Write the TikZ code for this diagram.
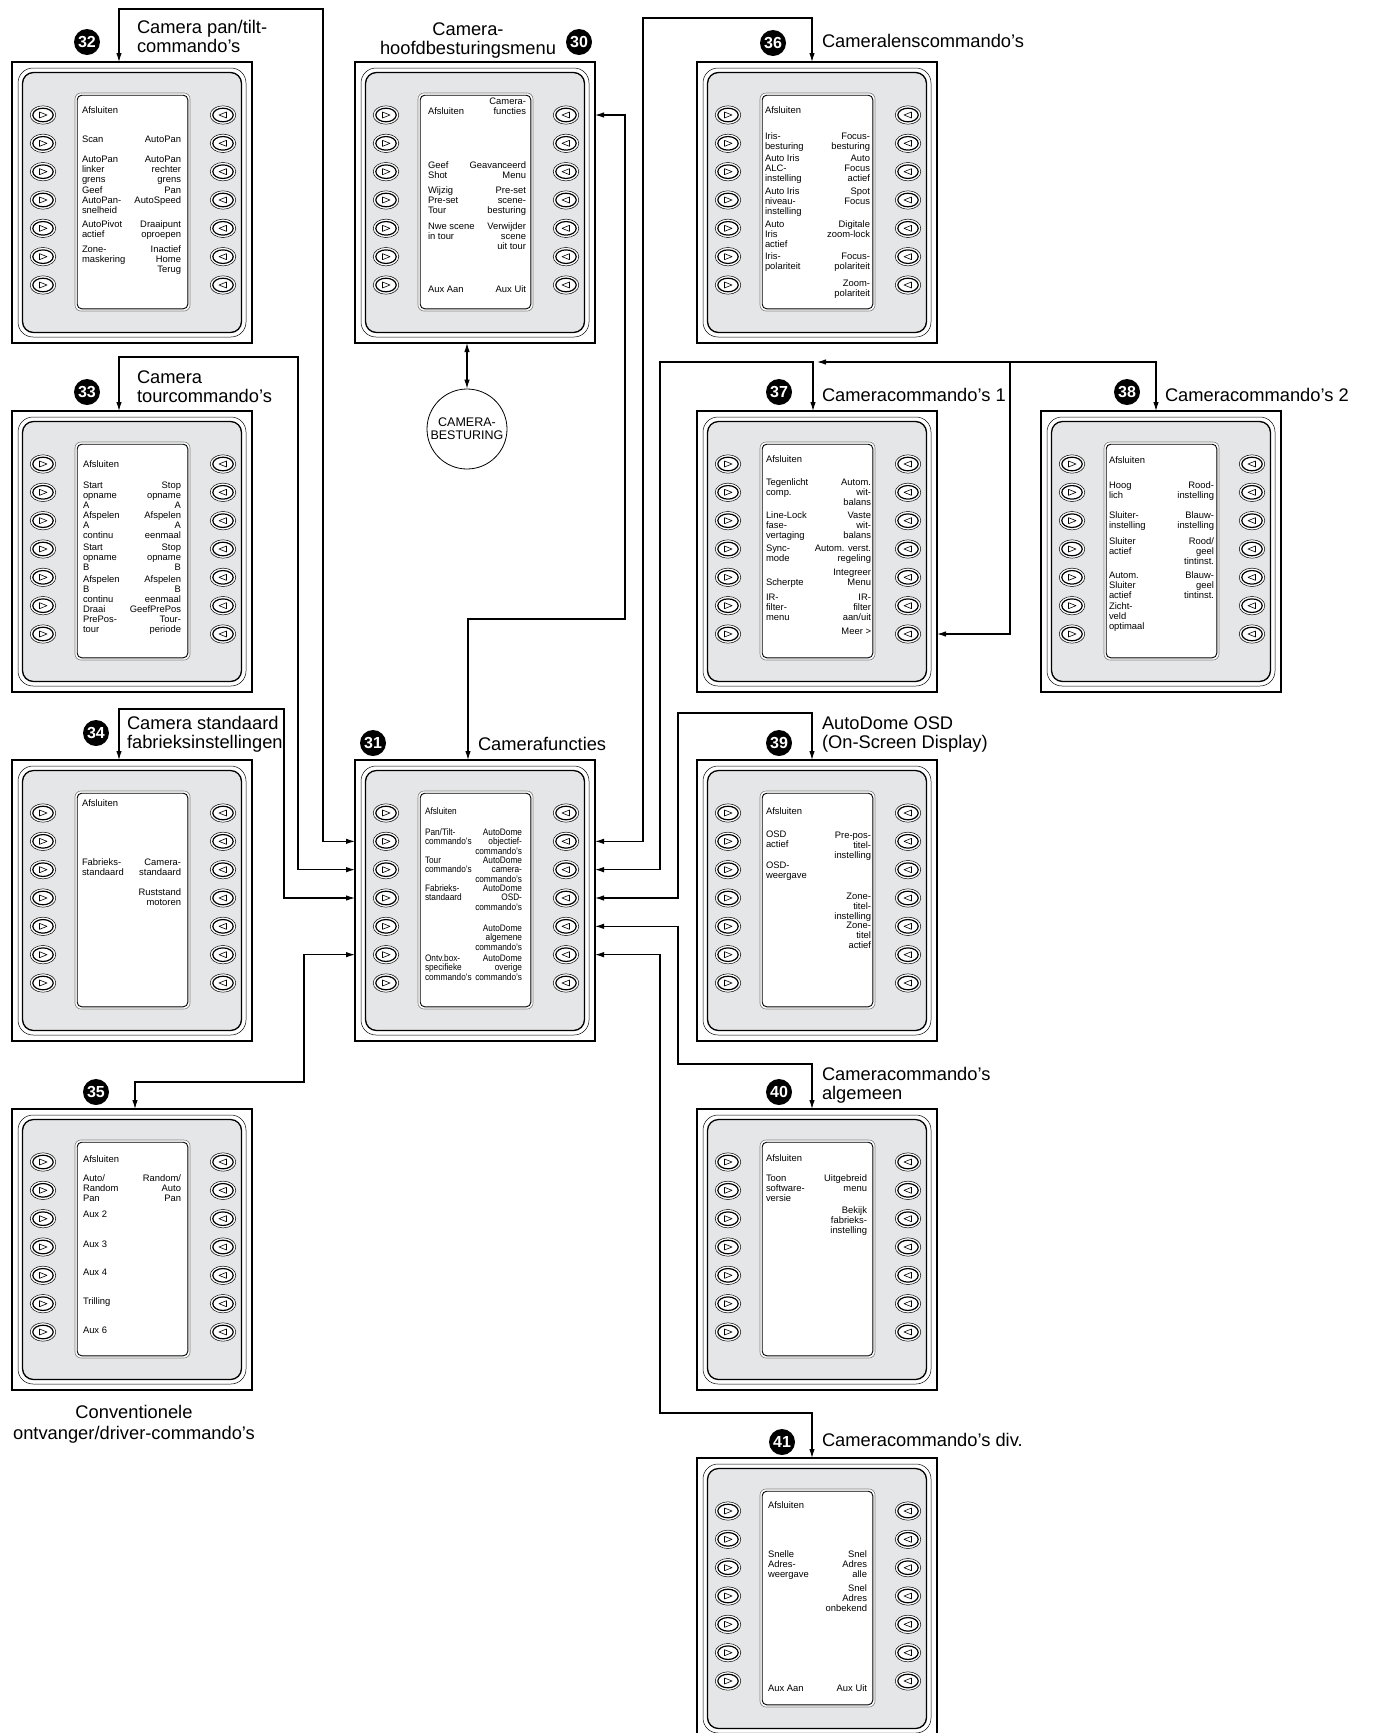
\documentclass[tikz,border=0pt]{standalone}
\usepackage{fontspec}
\setmainfont{Liberation Sans}
\newfontfamily\condfont[FakeStretch=0.88]{Liberation Sans}
\usetikzlibrary{arrows.meta}
\definecolor{panelgray}{RGB}{229,230,231}
\newcommand\smallf{\fontsize{9.4}{10}\selectfont}
\newcommand\smallc{\condfont\fontsize{9.4}{9.6}\selectfont}
\newcommand\titlef{\fontsize{18.3}{19}\selectfont}
\newcommand\lstrut{\rule{0pt}{8pt}}
\newcommand\tstrut{\rule{0pt}{14pt}}
\def\plx{70}
\def\prx{169}
\newcommand\labl[3]{\node[lt] (#1) at (\plx,{#2-8}) {\lstrut #3};}
\newcommand\labr[3]{\node[rt] (#1) at (\prx,{#2-8}) {\lstrut #3};}
\newcommand\btn[3]{%
  \draw[line width=0.5, fill=white] (#1,#2) ellipse [x radius=12.8, y radius=9.2];
  \draw[line width=1.2] (#1,#2) ellipse [x radius=10.2, y radius=6.8];
  \draw[line width=0.6, line join=round] ({#1-3.5*#3},{#2-3}) -- ({#1+4*#3},#2) -- ({#1-3.5*#3},{#2+3}) -- cycle;}
\newcommand\panel[3]{%
\begin{scope}[shift={(#2,#3)}]
\node[panelbox] (#1) at (0,0) {};
\draw[line width=0.5, fill=white, rounded corners=15] (6,6) rectangle (234,275);
\draw[line width=1.3, fill=panelgray, rounded corners=11] (10.5,10.5) rectangle (229.5,270.5);
\draw[line width=0.6, draw=black!50, fill=white, rounded corners=6] (63,31) rectangle (178,249);
\draw[line width=0.9, rounded corners=4.5] (65.2,33.2) rectangle (175.8,246.8);
\foreach \k in {1,...,7}{%
  \pgfmathsetmacro\yy{53+28.333*(\k-1)}%
  \coordinate (#1-L\k) at (0,\yy);
  \coordinate (#1-R\k) at (240,\yy);
  \btn{31}{\yy}{1}
  \btn{211}{\yy}{-1}
}
\end{scope}}
\tikzset{
 panelbox/.style={draw, line width=1.3, minimum width=240, minimum height=281, anchor=north west, inner sep=0, outer sep=0},
 lt/.style={anchor=north west, align=left, inner sep=0, outer sep=0, font=\smallf},
 rt/.style={anchor=north east, align=right, inner sep=0, outer sep=0, font=\smallf},
 ttl/.style={anchor=north west, align=left, inner sep=0, outer sep=0, font=\titlef},
 badge/.style={circle, fill=black, text=white, inner sep=0, minimum size=26, font=\fontsize{16}{16}\selectfont\bfseries},
 con/.style={line width=1.1},
 arr/.style={con, -{Latex[length=9pt,width=5.5pt]}},
 biarr/.style={con, {Latex[length=9pt,width=5.5pt]}-{Latex[length=9pt,width=5.5pt]}}
}
\begin{document}
\begin{tikzpicture}[x=1pt,y=-1pt]
\useasboundingbox (0,0) rectangle (1376,1733);
\fill[white] (0,0) rectangle (1376,1733);

% ---------- panels ----------
\panel{p32}{12}{62}
\begin{scope}[shift={(12,62)}]\def\plx{70}\def\prx{169}
\labl{p32a}{51}{Afsluiten}
\labl{p32b}{80}{Scan}\labr{p32c}{80}{AutoPan}
\labl{p32d}{100}{AutoPan\\linker\\grens}\labr{p32e}{100}{AutoPan\\rechter\\grens}
\labl{p32f}{131}{Geef\\AutoPan-\\snelheid}\labr{p32g}{131}{Pan\\AutoSpeed}
\labl{p32h}{165}{AutoPivot\\actief}\labr{p32i}{165}{Draaipunt\\oproepen}
\labl{p32j}{190}{Zone-\\maskering}\labr{p32k}{190}{Inactief\\Home\\Terug}
\end{scope}

\panel{p30}{355}{62}
\begin{scope}[shift={(355,62)}]\def\plx{73}\def\prx{171}
\labl{p30a}{52}{Afsluiten}\labr{p30b}{42}{Camera-\\functies}
\labl{p30c}{106}{Geef\\Shot}\labr{p30d}{106}{Geavanceerd\\Menu}
\labl{p30e}{131}{Wijzig\\Pre-set\\Tour}\labr{p30f}{131}{Pre-set\\scene-\\besturing}
\labl{p30g}{167}{Nwe scene\\in tour}\labr{p30h}{167}{Verwijder\\scene\\uit tour}
\labl{p30i}{230}{Aux Aan}\labr{p30j}{230}{Aux Uit}
\end{scope}

\panel{p36}{697}{62}
\begin{scope}[shift={(697,62)}]\def\plx{68}\def\prx{173}
\labl{p36a}{51}{Afsluiten}
\labl{p36b}{77}{Iris-\\besturing}\labr{p36c}{77}{Focus-\\besturing}
\labl{p36d}{99}{Auto Iris\\ALC-\\instelling}\labr{p36e}{99}{Auto\\Focus\\actief}
\labl{p36f}{132}{Auto Iris\\niveau-\\instelling}\labr{p36g}{132}{Spot\\Focus}
\labl{p36h}{165}{Auto\\Iris\\actief}\labr{p36i}{165}{Digitale\\zoom-lock}
\labl{p36j}{197}{Iris-\\polariteit}\labr{p36k}{197}{Focus-\\polariteit}
\labr{p36l}{224}{Zoom-\\polariteit}
\end{scope}

\panel{p33}{12}{411}
\begin{scope}[shift={(12,411)}]\def\plx{71}\def\prx{169}
\labl{p33a}{56}{Afsluiten}
\labl{p33b}{77}{Start\\opname\\A}\labr{p33c}{77}{Stop\\opname\\A}
\labl{p33d}{107}{Afspelen\\A\\continu}\labr{p33e}{107}{Afspelen\\A\\eenmaal}
\labl{p33f}{139}{Start\\opname\\B}\labr{p33g}{139}{Stop\\opname\\B}
\labl{p33h}{171}{Afspelen\\B\\continu}\labr{p33i}{171}{Afspelen\\B\\eenmaal}
\labl{p33j}{201}{Draai\\PrePos-\\tour}\labr{p33k}{201}{GeefPrePos\\Tour-\\periode}
\end{scope}

\panel{p37}{697}{411}
\begin{scope}[shift={(697,411)}]\def\plx{69}\def\prx{174}
\labl{p37a}{51}{Afsluiten}
\labl{p37b}{74}{Tegenlicht\\comp.}\labr{p37c}{74}{Autom.\\wit-\\balans}
\labl{p37d}{107}{Line-Lock\\fase-\\vertaging}\labr{p37e}{107}{Vaste\\wit-\\balans}
\labl{p37f}{140}{Sync-\\mode}\labr{p37g}{140}{Autom. verst.\\regeling}
\labr{p37h}{164}{Integreer\\Menu}\labl{p37i}{174}{Scherpte}
\labl{p37j}{189}{IR-\\filter-\\menu}\labr{p37k}{189}{IR-\\filter\\aan/uit}
\labr{p37l}{223}{Meer >}
\end{scope}

\panel{p38}{1041}{411}
\begin{scope}[shift={(1041,411)}]\def\plx{68}\def\prx{173}
\labl{p38a}{52}{Afsluiten}
\labl{p38b}{77}{Hoog\\lich}\labr{p38c}{77}{Rood-\\instelling}
\labl{p38d}{107}{Sluiter-\\instelling}\labr{p38e}{107}{Blauw-\\instelling}
\labl{p38f}{133}{Sluiter\\actief}\labr{p38g}{133}{Rood/\\geel\\tintinst.}
\labl{p38h}{167}{Autom.\\Sluiter\\actief}\labr{p38i}{167}{Blauw-\\geel\\tintinst.}
\labl{p38j}{198}{Zicht-\\veld\\optimaal}
\end{scope}

\panel{p34}{12}{760}
\begin{scope}[shift={(12,760)}]\def\plx{70}\def\prx{169}
\labl{p34a}{46}{Afsluiten}
\labl{p34b}{105}{Fabrieks-\\standaard}\labr{p34c}{105}{Camera-\\standaard}
\labr{p34d}{135}{Ruststand\\motoren}
\end{scope}

\panel{p31}{355}{760}
\begin{scope}[shift={(355,760)}, lt/.append style={font=\smallc}, rt/.append style={font=\smallc}]\def\plx{70}\def\prx{167}
\labl{p31a}{54}{Afsluiten}
\labl{p31b}{75}{Pan/Tilt-\\commando’s}\labr{p31c}{75}{AutoDome\\objectief-\\commando’s}
\labl{p31d}{103}{Tour\\commando’s}\labr{p31e}{103}{AutoDome\\camera-\\commando’s}
\labl{p31f}{131}{Fabrieks-\\standaard}\labr{p31g}{131}{AutoDome\\OSD-\\commando’s}
\labr{p31h}{171}{AutoDome\\algemene\\commando’s}
\labl{p31i}{201}{Ontv.box-\\specifieke\\commando’s}\labr{p31j}{201}{AutoDome\\overige\\commando’s}
\end{scope}

\panel{p39}{697}{760}
\begin{scope}[shift={(697,760)}]\def\plx{69}\def\prx{174}
\labl{p39a}{54}{Afsluiten}
\labl{p39b}{77}{OSD\\actief}\labr{p39c}{78}{Pre-pos-\\titel-\\instelling}
\labl{p39d}{108}{OSD-\\weergave}
\labr{p39e}{139}{Zone-\\titel-\\instelling}
\labr{p39f}{168}{Zone-\\titel\\actief}
\end{scope}

\panel{p35}{12}{1109}
\begin{scope}[shift={(12,1109)}]\def\plx{71}\def\prx{169}
\labl{p35a}{53}{Afsluiten}
\labl{p35b}{72}{Auto/\\Random\\Pan}\labr{p35c}{72}{Random/\\Auto\\Pan}
\labl{p35d}{108}{Aux 2}
\labl{p35e}{138}{Aux 3}
\labl{p35f}{166}{Aux 4}
\labl{p35g}{195}{Trilling}
\labl{p35h}{224}{Aux 6}
\end{scope}

\panel{p40}{697}{1109}
\begin{scope}[shift={(697,1109)}]\def\plx{69}\def\prx{170}
\labl{p40a}{52}{Afsluiten}
\labl{p40b}{72}{Toon\\software-\\versie}\labr{p40c}{72}{Uitgebreid\\menu}
\labr{p40d}{104}{Bekijk\\fabrieks-\\instelling}
\end{scope}

\panel{p41}{697}{1458}
\begin{scope}[shift={(697,1458)}]\def\plx{71}\def\prx{170}
\labl{p41a}{50}{Afsluiten}
\labl{p41b}{99}{Snelle\\Adres-\\weergave}\labr{p41c}{99}{Snel\\Adres\\alle}
\labr{p41d}{133}{Snel\\Adres\\onbekend}
\labl{p41e}{233}{Aux Aan}\labr{p41f}{233}{Aux Uit}
\end{scope}

% ---------- badges ----------
\node[badge] (b32) at (87,42) {32};
\node[badge] (b30) at (579,42) {30};
\node[badge] (b36) at (773,43) {36};
\node[badge] (b33) at (87,392) {33};
\node[badge] (b37) at (779,392) {37};
\node[badge] (b38) at (1127,392) {38};
\node[badge] (b34) at (96,733) {34};
\node[badge] (b31) at (373,743) {31};
\node[badge] (b39) at (779,743) {39};
\node[badge] (b35) at (96,1092) {35};
\node[badge] (b40) at (779,1092) {40};
\node[badge] (b41) at (782,1442) {41};

% ---------- titles ----------
\node[ttl] (n32) at (137,19) {\tstrut Camera pan/tilt-\\commando’s};
\node[ttl, anchor=north, align=center] (n30) at (468,21) {\tstrut Camera-\\hoofdbesturingsmenu};
\node[ttl] (n36) at (822,33) {\tstrut Cameralenscommando’s};
\node[ttl] (n33) at (137,369) {\tstrut Camera\\tourcommando’s};
\node[ttl] (n37) at (822,387) {\tstrut Cameracommando’s 1};
\node[ttl] (n38) at (1165,387) {\tstrut Cameracommando’s 2};
\node[ttl] (n34) at (127,715) {\tstrut Camera standaard\\fabrieksinstellingen};
\node[ttl] (n31) at (478,736) {\tstrut Camerafuncties};
\node[ttl] (n39) at (822,715) {\tstrut AutoDome OSD\\(On-Screen Display)};
\node[ttl, anchor=north, align=center] (n35) at (134,1404) {\tstrut Conventionele\\[2pt]ontvanger/driver-commando’s};
\node[ttl] (n40) at (822,1066) {\tstrut Cameracommando’s\\algemeen};
\node[ttl] (n41) at (822,1432) {\tstrut Cameracommando’s div.};

% ---------- camera control ----------
\node[circle, draw, line width=0.8, minimum size=80, inner sep=0, align=center, font=\fontsize{12.5}{13}\selectfont] (cam) at (467,429) {CAMERA-\\BESTURING};
\draw[biarr] (cam.north |- p30.south) -- (cam.north);

% ---------- connection points ----------
\coordinate (t32) at (119,62);
\coordinate (t33) at (119,411);
\coordinate (t34) at (119,760);
\coordinate (t35) at (135,1109);
\coordinate (t31) at (468,760);
\coordinate (t36) at (812,62);
\coordinate (t37) at (813,411);
\coordinate (t38) at (1156,411);
\coordinate (t39) at (812,760);
\coordinate (t40) at (812,1109);
\coordinate (t41) at (812,1458);
\coordinate (j38) at (1010,362);

% ---------- connectors ----------
\draw[biarr] (t32) |- (323,9) |- (p31-L2);
\draw[biarr] (t33) |- (298,357) |- (p31-L3);
\draw[biarr] (t34) |- (284,709) |- (p31-L4);
\draw[biarr] (t35) |- (304,1082) |- (p31-L6);
\draw[biarr] (p30-R1) -| (625,619) -| (t31);
\draw[biarr] (t36) |- (643,18) |- (p31-R2);
\draw[biarr] (t37) |- (660,362) |- (p31-R3);
\draw[arr] (j38) -- (817,362);
\draw[arr] (j38) -| (t38);
\draw[arr] (j38) |- (p37-R7);
\draw[biarr] (t39) |- (678,713) |- (p31-R4);
\draw[biarr] (t40) |- (678,1064) |- (p31-R5);
\draw[biarr] (t41) |- (660,1413) |- (p31-R6);
\end{tikzpicture}
\end{document}
